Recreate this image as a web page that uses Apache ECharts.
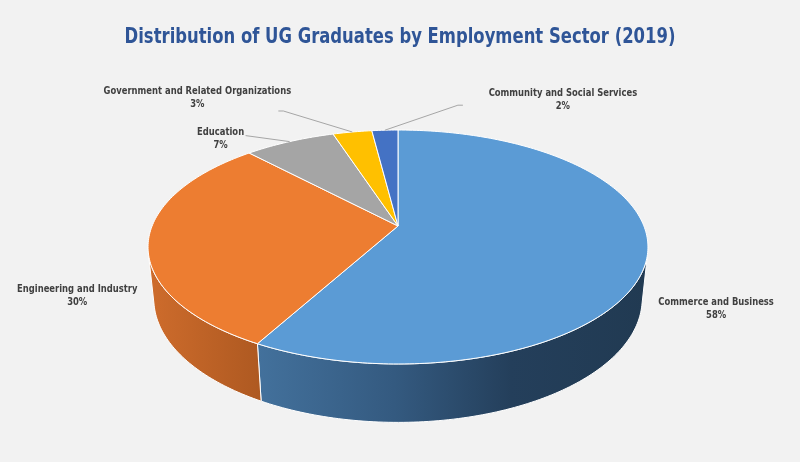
<!DOCTYPE html>
<html><head><meta charset="utf-8">
<script src="https://cdn.jsdelivr.net/npm/echarts@6/dist/echarts.min.js"></script>
<style>html,body{margin:0;padding:0;background:#F2F2F2}#c{width:800px;height:462px}</style>
</head><body><div id="c"></div>
<script>
// ---- data ----
const categories = ['Commerce and Business', 'Engineering and Industry', 'Education', 'Government and Related Organizations', 'Community and Social Services'];
const shares = [58, 30, 7, 3, 2];
const percentLabels = ['58%', '30%', '7%', '3%', '2%'];
const titleText = 'Distribution of UG Graduates by Employment Sector (2019)';

// ---- styles ----
const topColors = ['#5B9BD5', '#ED7D31', '#A5A5A5', '#FFC000', '#4472C4'];
const sideStops = [
  [[0, '#43719C'], [0.35, '#345A80'], [0.65, '#243F5B'], [1, '#213A52']],
  [[0, '#CE6C2C'], [1, '#AE5921']],
  [[0, '#858585'], [1, '#6E6E6E']],
  [[0, '#CC9A00'], [1, '#B08500']],
  [[0, '#35599A'], [1, '#2C4B82']]
];
const FONT = '"DejaVu Sans Condensed","Liberation Sans",sans-serif';
const LABEL_SCALE = 0.85;
const TITLE_SCALE = 0.87;

// ---- perspective layout of the 3D pie (top and bottom planes) ----
const TOP = { u0: 398, v0: 226, a: 245.9, b: 113.2, k: 0.1795 };
const BOT = { u0: 398, v0: 277.2, a: 240.4, b: 119.7, k: 0.1755 };
const SIL = [103.2, 256.8]; // visible side range (deg, clockwise from top)
// label layout relative to slice mid-point on the rim
const labelLayout = [
  { tx: 11, ty: 53, align: 'left' },
  { tx: -11, ty: 55, align: 'right' },
  { lead: [-44, -6], stub: 0, tx: -69, ty: -3, align: 'center' },
  { lead: [-69, -21], stub: -5, tx: -155, ty: -34, align: 'center' },
  { lead: [73, -25], stub: 5, tx: 178, ty: -31, align: 'center' }
];

const total = shares.reduce((s, v) => s + v, 0);
const starts = [];
{ let acc = 0; shares.forEach(v => { starts.push(acc / total * 360); acc += v; }); }

function proj(P, deg) {
  const t = deg * Math.PI / 180;
  const X = Math.sin(t), Z = -Math.cos(t);
  const d = 1 - P.k * Z;
  return [P.u0 + P.a * X / d, P.v0 + P.b * Z / d];
}
function arc(P, s, e) {
  const n = Math.max(2, Math.ceil(Math.abs(e - s)));
  const pts = [];
  for (let j = 0; j <= n; j++) pts.push(proj(P, s + (e - s) * j / n));
  return pts;
}

function renderSide(params, api) {
  const i = params.dataIndex;
  const span = api.value(0) / total * 360;
  const a0 = starts[i], a1 = a0 + span;
  const s = Math.max(a0, SIL[0]), e = Math.min(a1, SIL[1]);
  if (e <= s) return { type: 'group', children: [] };
  const topArc = arc(TOP, s, e);
  const botArc = arc(BOT, s, e).reverse();
  const pts = topArc.concat(botArc);
  let minX = Infinity, maxX = -Infinity;
  pts.forEach(p => { minX = Math.min(minX, p[0]); maxX = Math.max(maxX, p[0]); });
  return {
    type: 'polygon',
    shape: { points: pts },
    style: {
      fill: { type: 'linear', x: minX, y: 0, x2: maxX, y2: 0, global: true,
        colorStops: sideStops[i].map(s => ({ offset: s[0], color: s[1] })) },
      stroke: '#FFFFFF', lineWidth: 1
    }
  };
}

// measure label widths so side labels sit by their edge
const ctx = document.createElement('canvas').getContext('2d');
ctx.font = 'bold 11px ' + FONT;
function halfW(i) {
  return Math.max(ctx.measureText(categories[i]).width, ctx.measureText(percentLabels[i]).width) * LABEL_SCALE / 2;
}

function renderTop(params, api) {
  const i = params.dataIndex;
  const span = api.value(0) / total * 360;
  const a0 = starts[i], a1 = a0 + span;
  const pts = [[TOP.u0, TOP.v0]].concat(arc(TOP, a0, a1));
  const children = [{
    type: 'polygon', shape: { points: pts },
    style: { fill: topColors[i], stroke: '#FFFFFF', lineWidth: 1, lineJoin: 'round' }
  }];
  const m = proj(TOP, (a0 + a1) / 2);
  const L = labelLayout[i];
  if (L.lead) {
    const p1 = [m[0] + L.lead[0], m[1] + L.lead[1]];
    const p2 = [p1[0] + L.stub, p1[1]];
    children.push({ type: 'polyline', shape: { points: [m, p1, p2] },
      style: { stroke: '#A6A6A6', lineWidth: 1, fill: null }, z2: 5 });
  }
  let tx = L.tx;
  if (L.align === 'left') tx += halfW(i);
  if (L.align === 'right') tx -= halfW(i);
  children.push({
    type: 'text', x: m[0] + tx, y: m[1] + L.ty, z2: 6, scaleX: LABEL_SCALE,
    style: { text: api.value(1) + '\n' + percentLabels[i], fill: '#404040',
      font: 'bold 11px ' + FONT, align: 'center', verticalAlign: 'middle', lineHeight: 13 }
  });
  return { type: 'group', children: children };
}

const rows = shares.map((v, i) => [v, categories[i]]);

const chart = echarts.init(document.getElementById('c'), null, { renderer: 'canvas' });
chart.setOption({
  backgroundColor: '#F2F2F2',
  animation: false,
  graphic: [{
    type: 'text', x: 400, y: 38, scaleX: TITLE_SCALE,
    style: { text: titleText, fill: '#2F5597', font: 'bold 21px ' + FONT,
      align: 'center', verticalAlign: 'middle' }
  }],
  series: [
    { type: 'custom', coordinateSystem: 'none', z: 1, data: rows, renderItem: renderSide, silent: true },
    { type: 'custom', coordinateSystem: 'none', z: 2, data: rows, renderItem: renderTop, silent: true }
  ]
});
</script></body></html>
